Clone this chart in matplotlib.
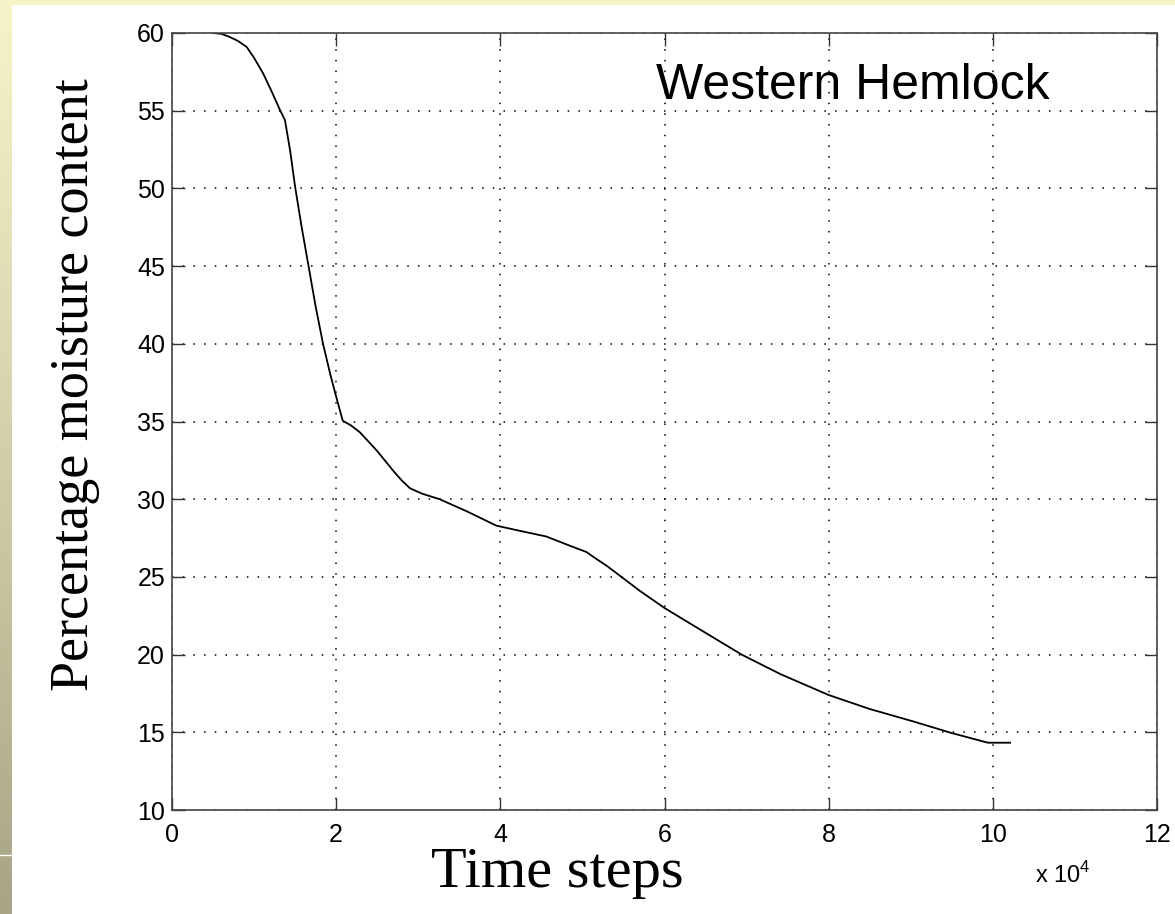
import numpy as np
import matplotlib
matplotlib.use("Agg")
import matplotlib.pyplot as plt
from matplotlib.patches import Rectangle

# Curve (time steps in units of 10^4)
time_steps = [0.5, 0.6, 0.7, 0.8, 0.91, 1.0, 1.11, 1.2, 1.315, 1.376, 1.44, 1.50,
              1.58, 1.66, 1.75, 1.84, 1.93, 2.01, 2.08, 2.18, 2.29, 2.50, 2.70,
              2.80, 2.90, 3.05, 3.26, 3.60, 3.95, 4.25, 4.56, 4.85, 5.05, 5.13,
              5.30, 5.45, 5.70, 6.00, 6.50, 6.94, 7.41, 8.00, 8.50, 9.03, 9.50,
              9.94, 10.21]
moisture = [60.0, 59.95, 59.75, 59.5, 59.1, 58.4, 57.4, 56.4, 55.05, 54.4, 52.4,
            50.1, 47.5, 45.1, 42.4, 40.0, 38.0, 36.4, 35.05, 34.75, 34.3, 33.1,
            31.8, 31.2, 30.7, 30.35, 30.0, 29.2, 28.3, 27.95, 27.6, 27.0, 26.6,
            26.3, 25.7, 25.1, 24.1, 23.0, 21.4, 20.0, 18.75, 17.4, 16.5, 15.7,
            14.95, 14.33, 14.33]

x_ticks = [0, 2, 4, 6, 8, 10, 12]
y_ticks = [10, 15, 20, 25, 30, 35, 40, 45, 50, 55, 60]

plt.rcParams['mathtext.fontset'] = 'custom'
plt.rcParams['mathtext.rm'] = 'Liberation Sans'

W, H = 1175, 914
fig = plt.figure(figsize=(W / 100, H / 100), dpi=100)

# Slide background: yellow gradient strip on top and left
bg = fig.add_axes([0, 0, 1, 1], zorder=-10)
bg.set_xlim(0, W)
bg.set_ylim(H, 0)
bg.axis('off')
top = np.array([0.965, 0.953, 0.788])
bottom = np.array([0.655, 0.645, 0.525])
t = np.linspace(0, 1, 200)[:, None]
grad = top + (bottom - top) * t ** 1.1
bg.imshow(grad[:, None, :].repeat(2, axis=1), extent=[0, W, H, 0], aspect='auto')
bg.add_patch(Rectangle((12, 5), W, H, facecolor='white', edgecolor='none'))
bg.plot([0, 12], [855, 855], color='white', lw=1)

ax = fig.add_axes([172 / W, 1 - 810 / H, (1157 - 172) / W, (810 - 33) / H])
ax.plot(time_steps, moisture, color='black', lw=1.3)

ax.set_xlim(0, 12)
ax.set_ylim(10, 60)
ax.set_xticks(x_ticks)
ax.set_yticks(y_ticks)
ax.grid(True, color='black', linestyle=(0, (1, 6)), lw=1.1)
ax.tick_params(direction='in', length=9, width=1, top=True, right=True,
               labelsize=18, color='#333333')
ax.tick_params(axis='x', pad=9)
ax.tick_params(axis='y', pad=5)
for lab in ax.get_xticklabels() + ax.get_yticklabels():
    lab.set_fontfamily('Liberation Sans')
for s in ax.spines.values():
    s.set_color('#444444')
    s.set_linewidth(1.2)

ax.text(0.891, 0.932, 'Western Hemlock', transform=ax.transAxes, ha='right',
        va='center', fontsize=36, fontfamily='Liberation Sans')

fig.text(75 / W, 1 - 385 / H, 'Percentage moisture content', rotation=90,
         ha='center', va='center', fontsize=39, fontfamily='Liberation Serif')
fig.text(557 / W, 1 - 873 / H, 'Time steps', ha='center', va='center',
         fontsize=42, fontfamily='Liberation Serif')
fig.text(1091 / W, 1 - 883 / H, r'x 10$^{4}$', ha='right', va='baseline',
         fontsize=17, fontfamily='Liberation Sans')

fig.savefig('out.png', dpi=100)
